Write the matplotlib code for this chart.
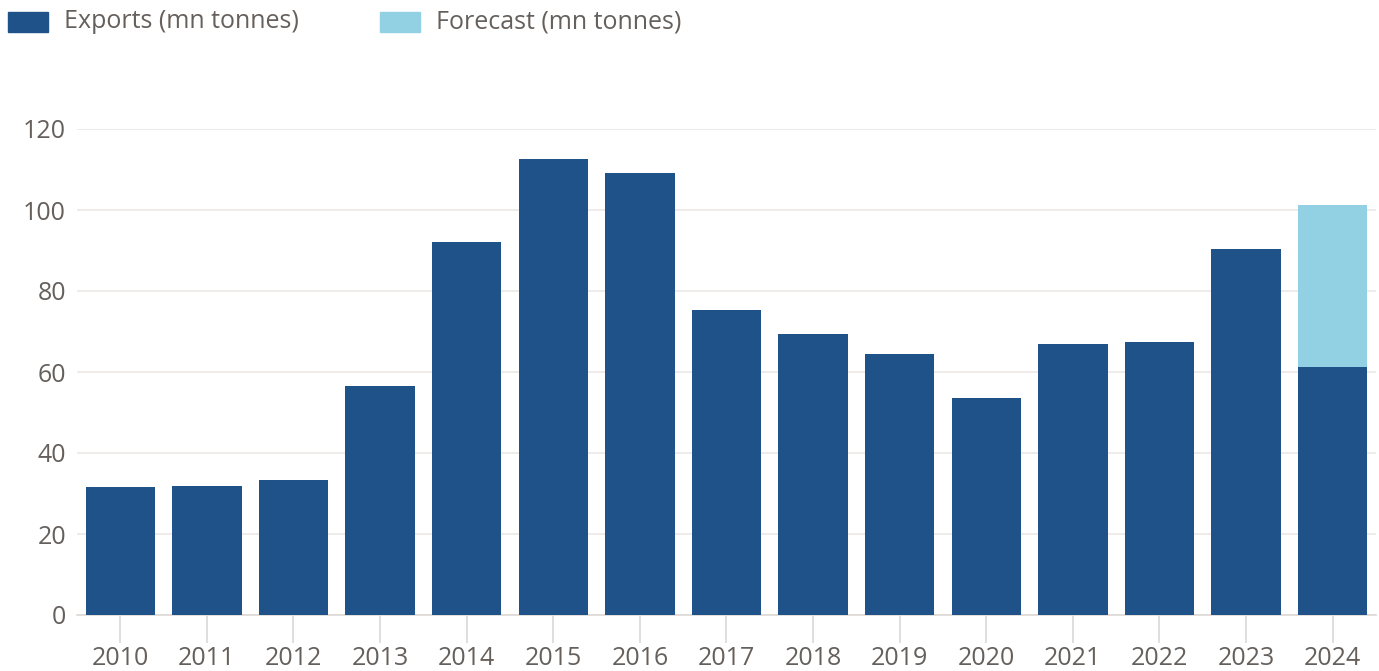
import matplotlib.pyplot as plt
import numpy as np

years = ['2010', '2011', '2012', '2013', '2014', '2015', '2016', '2017',
         '2018', '2019', '2020', '2021', '2022', '2023', '2024']
exports = [31.7, 31.9, 33.3, 56.5, 92.1, 112.6, 109.1, 75.3,
           69.4, 64.4, 53.6, 66.9, 67.4, 90.4, 61.2]
forecast = [0, 0, 0, 0, 0, 0, 0, 0, 0, 0, 0, 0, 0, 0, 40.0]

dark = '#1f5289'
light = '#92d0e4'
text_col = '#66605c'
grid_col = '#ece8e4'

plt.rcParams['font.family'] = ['Open Sans', 'DejaVu Sans']

fig = plt.figure(figsize=(13.79, 6.71), dpi=100)
ax = fig.add_axes([77 / 1379, 56 / 671, 1299 / 1379, 486 / 671])

x = np.arange(len(years))
ax.bar(x, exports, width=0.8, color=dark, zorder=3)
ax.bar(x, forecast, width=0.8, bottom=exports, color=light, zorder=3)

ax.set_xlim(-0.5, len(years) - 0.5)
ax.set_ylim(0, 120)
ax.set_yticks(range(0, 121, 20))
ax.set_xticks(x)
ax.set_xticklabels(years)

ax.grid(axis='y', color=grid_col, linewidth=1.2, zorder=0)
for s in ['top', 'right', 'left']:
    ax.spines[s].set_visible(False)
ax.spines['bottom'].set_color('#ddd8d4')
ax.spines['bottom'].set_linewidth(1.2)
ax.tick_params(axis='x', length=20, width=1.2, color='#ddd8d4',
               labelsize=18, labelcolor=text_col, pad=2)
ax.tick_params(axis='y', length=0, labelsize=18, labelcolor=text_col, pad=8)

# legend drawn by hand in figure coordinates
fig.patches.append(plt.Rectangle((8 / 1379, 1 - 32 / 671), 40 / 1379, 20 / 671,
                                 transform=fig.transFigure, color=dark))
fig.text(64 / 1379, 1 - 22 / 671, 'Exports (mn tonnes)', va='center',
         fontsize=18, color=text_col)
fig.patches.append(plt.Rectangle((380 / 1379, 1 - 32 / 671), 40 / 1379, 20 / 671,
                                 transform=fig.transFigure, color=light))
fig.text(436 / 1379, 1 - 22 / 671, 'Forecast (mn tonnes)', va='center',
         fontsize=18, color=text_col)

fig.savefig('out.png', dpi=100)
